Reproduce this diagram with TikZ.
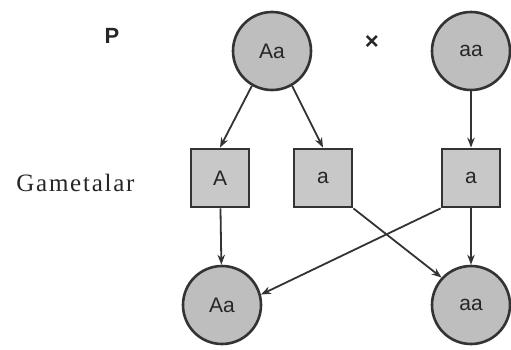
\documentclass[tikz,border=0pt]{standalone}
\usepackage{fontspec}
\setmainfont{Liberation Serif}
\newfontfamily\cellfont{Liberation Sans}
\usetikzlibrary{arrows.meta, positioning}
\definecolor{ink}{HTML}{333333}
\definecolor{textink}{HTML}{262626}
\definecolor{cellgray}{HTML}{BEBEBE}
\definecolor{gametegray}{HTML}{C8C8C8}
\tikzset{
  parent_cell/.style={circle, draw=ink, fill=cellgray, line width=2.6pt, minimum size=78pt, inner sep=0pt, text=textink, font=\cellfont\fontsize{21}{21}\selectfont},
  gamete_box/.style={rectangle, draw=ink, fill=gametegray, line width=2.8pt, minimum size=58pt, inner sep=0pt, text=textink, font=\cellfont\fontsize{21}{21}\selectfont},
  row_label/.style={text=textink, font=\fontsize{25}{25}\selectfont\addfontfeature{LetterSpace=7}},
  gen_label/.style={text=textink, font=\cellfont\bfseries\fontsize{22}{22}\selectfont},
  arrow/.style={-{Stealth[length=10pt, width=7.5pt]}, line width=1.8pt, ink}
}

\begin{document}
\begin{tikzpicture}[x=1pt, y=-1pt]

  \useasboundingbox[fill=white] (0,0) rectangle (511,350);

  % --- Row heights ---
  \def\yParent{51}
  \def\yGamete{178}
  \def\yChild{305}

  % --- Parents ---
  \node[gen_label, anchor=base] (P_label) at (112,44) {P};
  \node[parent_cell] (Aa_p) at (272,\yParent) {Aa};
  \node[gen_label, font=\cellfont\bfseries\fontsize{24}{24}\selectfont] (cross) at (372,43) {×};
  \node[parent_cell] (aa_p) at (471,\yParent) {aa};

  % --- Gametes ---
  \node[row_label, anchor=base east] (gamete_label) at (138,191) {Gametalar};
  \node[gamete_box] (A_g) at (220,\yGamete) {A};
  \node[gamete_box] (a_g1) at (323,\yGamete) {a};
  \node[gamete_box] (a_g2) at (471,\yGamete) {a};

  % --- Offspring ---
  \node[parent_cell] (Aa_f) at (222,\yChild) {Aa};
  \node[parent_cell] (aa_f) at (471,\yChild) {aa};

  % --- Arrows ---
  \draw[arrow] (Aa_p.240) -- (A_g.north);
  \draw[arrow] (Aa_p.300) -- (a_g1.north);
  \draw[arrow] (aa_p) -- (a_g2);
  \draw[arrow] (A_g) -- (Aa_f);
  \draw[arrow] (a_g2) -- (aa_f);
  \draw[arrow] (a_g1.south east) -- (aa_f.137);
  \draw[arrow] (a_g2.south west) -- (Aa_f.15);

\end{tikzpicture}
\end{document}
